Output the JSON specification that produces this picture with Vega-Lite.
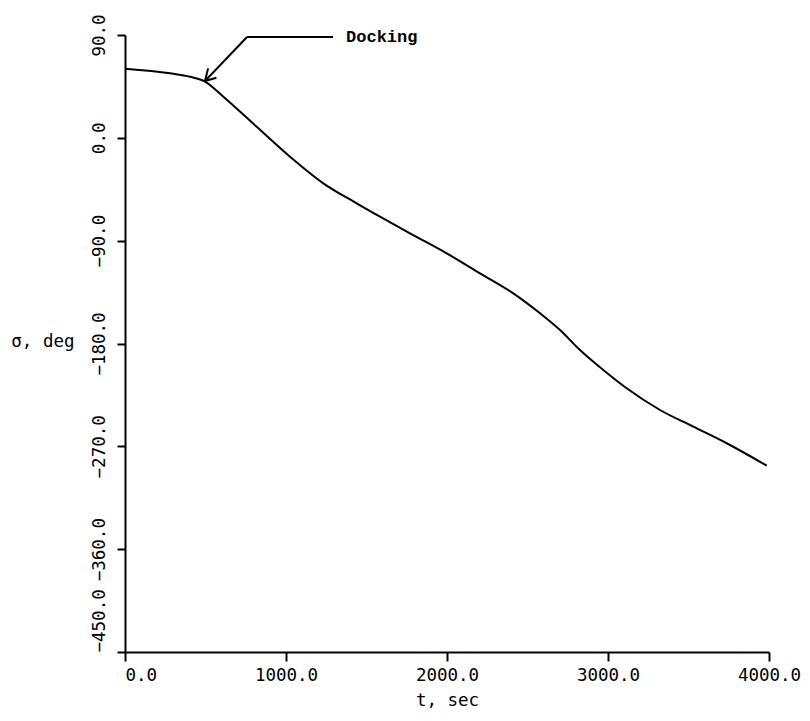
{
  "$schema": "https://vega.github.io/schema/vega-lite/v6.json",
  "autosize": "none",
  "padding": {"left": 125, "top": 35, "right": 41, "bottom": 69},
  "width": 644,
  "height": 617,
  "background": "white",
  "config": {
    "view": {"stroke": null},
    "axis": {
      "grid": false,
      "domainColor": "black",
      "domainWidth": 2,
      "tickColor": "black",
      "tickWidth": 2,
      "labelFont": "DejaVu Sans Mono",
      "labelFontSize": 17.5,
      "labelColor": "black",
      "titleFont": "DejaVu Sans Mono",
      "titleFontSize": 17.5,
      "titleFontWeight": "normal",
      "titleColor": "black"
    }
  },
  "datasets": {
    "curve": [
      {"t": 0, "sigma": 60.5},
      {"t": 280, "sigma": 56.5},
      {"t": 404, "sigma": 53.5},
      {"t": 497, "sigma": 49.3},
      {"t": 611, "sigma": 36.0},
      {"t": 818, "sigma": 9.7},
      {"t": 1025, "sigma": -16.5},
      {"t": 1232, "sigma": -39.8},
      {"t": 1439, "sigma": -57.3},
      {"t": 1584, "sigma": -69.0},
      {"t": 1770, "sigma": -83.6},
      {"t": 1998, "sigma": -101.1},
      {"t": 2205, "sigma": -118.6},
      {"t": 2412, "sigma": -136.1},
      {"t": 2578, "sigma": -153.6},
      {"t": 2702, "sigma": -168.2},
      {"t": 2826, "sigma": -185.7},
      {"t": 2971, "sigma": -203.2},
      {"t": 3116, "sigma": -219.2},
      {"t": 3323, "sigma": -238.2},
      {"t": 3530, "sigma": -252.8},
      {"t": 3737, "sigma": -267.3},
      {"t": 3986, "sigma": -286.9}
    ],
    "arrow": [
      {"t": 497, "sigma": 49.7, "t2": 758, "sigma2": 88.2},
      {"t": 758, "sigma": 88.2, "t2": 1292, "sigma2": 88.2},
      {"t": 497, "sigma": 49.7, "t2": 568, "sigma2": 52.6},
      {"t": 497, "sigma": 49.7, "t2": 516, "sigma2": 60.8}
    ],
    "label": [
      {"t": 1373, "sigma": 88.2, "text": "Docking"}
    ]
  },
  "layer": [
    {
      "data": {"name": "curve"},
      "mark": {"type": "line", "color": "black", "strokeWidth": 2, "interpolate": "monotone"},
      "encoding": {
        "x": {
          "field": "t", "type": "quantitative",
          "scale": {"domain": [0, 4000], "nice": false, "zero": false},
          "axis": {
            "title": "t, sec",
            "values": [0, 1000, 2000, 3000, 4000],
            "format": ".1f",
            "tickSize": 9,
            "labelPadding": 5,
            "labelFlush": false,
            "labelAlign": {"condition": {"test": "datum.value == 0", "value": "left"}, "value": "center"},
            "titlePadding": 8
          }
        },
        "y": {
          "field": "sigma", "type": "quantitative",
          "scale": {"domain": [-450, 90], "nice": false, "zero": false},
          "axis": {
            "title": "σ, deg",
            "values": [90, 0, -90, -180, -270, -360, -450],
            "format": ".1f",
            "tickSize": 8,
            "labelAngle": 270,
            "labelFlush": false,
            "labelAlign": {"condition": {"test": "datum.value == -450", "value": "left"}, "value": "center"},
            "labelBaseline": "alphabetic",
            "labelPadding": 13,
            "titleAngle": 0,
            "titleAlign": "right",
            "titleBaseline": "middle",
            "titleX": -51,
            "titleY": 306
          }
        }
      }
    },
    {
      "data": {"name": "arrow"},
      "mark": {"type": "rule", "color": "black", "strokeWidth": 2},
      "encoding": {
        "x": {"field": "t", "type": "quantitative"},
        "y": {"field": "sigma", "type": "quantitative"},
        "x2": {"field": "t2"},
        "y2": {"field": "sigma2"}
      }
    },
    {
      "data": {"name": "label"},
      "mark": {"type": "text", "align": "left", "baseline": "middle", "font": "Liberation Mono", "fontSize": 17, "fontWeight": "bold", "color": "black"},
      "encoding": {
        "x": {"field": "t", "type": "quantitative"},
        "y": {"field": "sigma", "type": "quantitative"},
        "text": {"field": "text"}
      }
    }
  ]
}
